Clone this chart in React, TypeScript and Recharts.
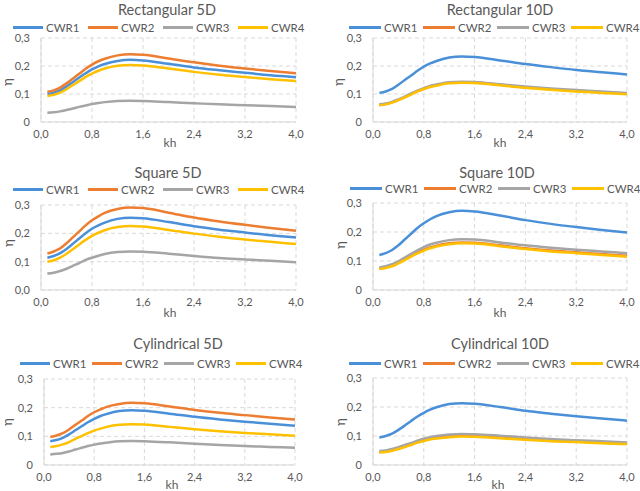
import React from "react"
import { LineChart, Line, XAxis, YAxis, CartesianGrid } from "recharts"

// kh sample points (shared by every panel)
const khValues = [0.1, 0.2, 0.3, 0.4, 0.5, 0.6, 0.7, 0.8, 0.9, 1.0, 1.2, 1.4, 1.6, 2.0, 2.4, 2.8, 3.2, 3.6, 4.0]
const seriesNames = ["CWR1", "CWR2", "CWR3", "CWR4"]
const xTicks = [0, 0.8, 1.6, 2.4, 3.2, 4.0]
const yTicks = [0, 0.1, 0.2, 0.3]

// Rectangular 5D
const rect5Cwr1 = [0.100, 0.105, 0.113, 0.127, 0.143, 0.159, 0.174, 0.188, 0.199, 0.207, 0.218, 0.222, 0.220, 0.208, 0.195, 0.185, 0.176, 0.167, 0.160]
const rect5Cwr2 = [0.108, 0.113, 0.123, 0.138, 0.155, 0.172, 0.190, 0.205, 0.217, 0.226, 0.238, 0.242, 0.240, 0.227, 0.213, 0.201, 0.191, 0.182, 0.174]
const rect5Cwr3 = [0.033, 0.035, 0.038, 0.043, 0.048, 0.054, 0.059, 0.064, 0.068, 0.071, 0.075, 0.076, 0.075, 0.071, 0.067, 0.063, 0.060, 0.057, 0.054]
const rect5Cwr4 = [0.093, 0.097, 0.105, 0.117, 0.132, 0.146, 0.161, 0.173, 0.183, 0.191, 0.201, 0.204, 0.202, 0.191, 0.179, 0.169, 0.161, 0.153, 0.146]

// Rectangular 10D
const rect10Cwr1 = [0.104, 0.109, 0.118, 0.133, 0.150, 0.166, 0.183, 0.198, 0.209, 0.218, 0.230, 0.234, 0.232, 0.220, 0.207, 0.196, 0.186, 0.178, 0.170]
const rect10Cwr2 = [0.061, 0.064, 0.070, 0.079, 0.089, 0.100, 0.110, 0.119, 0.127, 0.132, 0.140, 0.142, 0.141, 0.133, 0.124, 0.117, 0.111, 0.106, 0.101]
const rect10Cwr3 = [0.063, 0.066, 0.072, 0.081, 0.091, 0.102, 0.112, 0.121, 0.129, 0.134, 0.142, 0.144, 0.143, 0.135, 0.127, 0.120, 0.114, 0.109, 0.104]
const rect10Cwr4 = [0.060, 0.063, 0.069, 0.078, 0.088, 0.098, 0.109, 0.118, 0.125, 0.130, 0.138, 0.140, 0.139, 0.131, 0.122, 0.115, 0.109, 0.104, 0.099]

// Square 5D
const sq5Cwr1 = [0.114, 0.120, 0.130, 0.145, 0.163, 0.182, 0.200, 0.216, 0.228, 0.238, 0.251, 0.255, 0.253, 0.240, 0.225, 0.213, 0.203, 0.193, 0.185]
const sq5Cwr2 = [0.129, 0.136, 0.147, 0.165, 0.186, 0.207, 0.228, 0.246, 0.260, 0.272, 0.286, 0.291, 0.289, 0.273, 0.256, 0.242, 0.230, 0.219, 0.209]
const sq5Cwr3 = [0.058, 0.061, 0.067, 0.075, 0.085, 0.095, 0.106, 0.114, 0.121, 0.127, 0.134, 0.136, 0.135, 0.128, 0.120, 0.113, 0.108, 0.103, 0.098]
const sq5Cwr4 = [0.100, 0.105, 0.114, 0.128, 0.144, 0.161, 0.177, 0.191, 0.202, 0.211, 0.222, 0.226, 0.224, 0.212, 0.199, 0.188, 0.178, 0.170, 0.162]

// Square 10D
const sq10Cwr1 = [0.121, 0.127, 0.138, 0.154, 0.174, 0.194, 0.214, 0.230, 0.244, 0.255, 0.268, 0.273, 0.271, 0.257, 0.241, 0.228, 0.217, 0.207, 0.198]
const sq10Cwr2 = [0.074, 0.078, 0.084, 0.094, 0.106, 0.117, 0.129, 0.139, 0.147, 0.153, 0.161, 0.164, 0.163, 0.154, 0.144, 0.136, 0.130, 0.124, 0.118]
const sq10Cwr3 = [0.078, 0.082, 0.089, 0.099, 0.112, 0.125, 0.137, 0.148, 0.157, 0.163, 0.172, 0.175, 0.174, 0.164, 0.154, 0.146, 0.139, 0.133, 0.127]
const sq10Cwr4 = [0.072, 0.076, 0.082, 0.092, 0.103, 0.115, 0.126, 0.136, 0.144, 0.150, 0.158, 0.161, 0.160, 0.151, 0.141, 0.133, 0.127, 0.121, 0.115]

// Cylindrical 5D
const cyl5Cwr1 = [0.083, 0.087, 0.095, 0.107, 0.121, 0.135, 0.149, 0.161, 0.171, 0.178, 0.188, 0.191, 0.189, 0.179, 0.168, 0.159, 0.151, 0.144, 0.137]
const cyl5Cwr2 = [0.098, 0.103, 0.111, 0.124, 0.140, 0.155, 0.171, 0.184, 0.194, 0.203, 0.213, 0.217, 0.215, 0.204, 0.192, 0.182, 0.174, 0.166, 0.159]
const cyl5Cwr3 = [0.037, 0.039, 0.042, 0.047, 0.054, 0.060, 0.066, 0.071, 0.075, 0.078, 0.083, 0.084, 0.083, 0.079, 0.074, 0.070, 0.066, 0.063, 0.060]
const cyl5Cwr4 = [0.063, 0.066, 0.072, 0.080, 0.091, 0.101, 0.111, 0.120, 0.127, 0.133, 0.140, 0.142, 0.141, 0.133, 0.125, 0.118, 0.112, 0.107, 0.102]

// Cylindrical 10D
const cyl10Cwr1 = [0.095, 0.100, 0.108, 0.121, 0.136, 0.152, 0.167, 0.180, 0.191, 0.199, 0.210, 0.213, 0.211, 0.200, 0.187, 0.177, 0.168, 0.160, 0.153]
const cyl10Cwr2 = [0.045, 0.047, 0.051, 0.057, 0.065, 0.072, 0.079, 0.085, 0.090, 0.094, 0.099, 0.101, 0.100, 0.095, 0.089, 0.085, 0.081, 0.077, 0.074]
const cyl10Cwr3 = [0.048, 0.050, 0.055, 0.061, 0.069, 0.076, 0.084, 0.091, 0.096, 0.100, 0.105, 0.107, 0.106, 0.101, 0.095, 0.090, 0.085, 0.082, 0.078]
const cyl10Cwr4 = [0.043, 0.045, 0.049, 0.055, 0.062, 0.069, 0.077, 0.083, 0.088, 0.091, 0.096, 0.098, 0.097, 0.092, 0.087, 0.082, 0.079, 0.075, 0.072]

const COLORS = ["#4A90D9", "#ED7D31", "#A5A5A5", "#FFC000"]
const TEXT = "#595959"
const GRID = "#D9D9D9"
const FONT = "Lato, 'Open Sans', sans-serif"

// layout in page pixels: box, plot area, title/legend/axis-title anchors
const panels = [
  { title: "Rectangular 5D", series: [rect5Cwr1, rect5Cwr2, rect5Cwr3, rect5Cwr4], zero: "0",
    box: { x: 0, y: 0, h: 160 }, plot: { l: 41, r: 296, t: 38, b: 122 },
    titleX: 167, titleY: 10, legendX: 13, legendY: 27, legLine: 30, legItem: 75,
    khX: 170, khY: 143, etaX: 7, etaY: 82 },
  { title: "Rectangular 10D", series: [rect10Cwr1, rect10Cwr2, rect10Cwr3, rect10Cwr4], zero: "0",
    box: { x: 320, y: 0, h: 160 }, plot: { l: 373, r: 627, t: 38, b: 122 },
    titleX: 500, titleY: 10, legendX: 349, legendY: 27, legLine: 32, legItem: 74,
    khX: 500, khY: 143, etaX: 338, etaY: 82 },
  { title: "Square 5D", series: [sq5Cwr1, sq5Cwr2, sq5Cwr3, sq5Cwr4], zero: "0,0",
    box: { x: 0, y: 160, h: 165 }, plot: { l: 41, r: 296, t: 205, b: 290 },
    titleX: 168, titleY: 173, legendX: 13, legendY: 189, legLine: 30, legItem: 75,
    khX: 170, khY: 313, etaX: 8, etaY: 243 },
  { title: "Square 10D", series: [sq10Cwr1, sq10Cwr2, sq10Cwr3, sq10Cwr4], zero: "0",
    box: { x: 320, y: 160, h: 165 }, plot: { l: 373, r: 627, t: 203, b: 290 },
    titleX: 497, titleY: 173, legendX: 350, legendY: 188, legLine: 32, legItem: 74,
    khX: 500, khY: 313, etaX: 340, etaY: 245 },
  { title: "Cylindrical 5D", series: [cyl5Cwr1, cyl5Cwr2, cyl5Cwr3, cyl5Cwr4], zero: "0",
    box: { x: 0, y: 325, h: 166 }, plot: { l: 44, r: 295, t: 379, b: 465 },
    titleX: 178, titleY: 344, legendX: 20, legendY: 363, legLine: 30, legItem: 72,
    khX: 172, khY: 485, etaX: 7, etaY: 422 },
  { title: "Cylindrical 10D", series: [cyl10Cwr1, cyl10Cwr2, cyl10Cwr3, cyl10Cwr4], zero: "0",
    box: { x: 320, y: 325, h: 166 }, plot: { l: 373, r: 627, t: 378, b: 465 },
    titleX: 500, titleY: 344, legendX: 349, legendY: 363, legLine: 32, legItem: 74,
    khX: 498, khY: 485, etaX: 340, etaY: 422 },
]

const XAXIS_H = 20

function fmtX(v: number) {
  return v.toFixed(1).replace(".", ",")
}

function Panel({ p }: { p: (typeof panels)[number] }) {
  const data = khValues.map((kh, i) => ({
    kh,
    CWR1: p.series[0][i],
    CWR2: p.series[1][i],
    CWR3: p.series[2][i],
    CWR4: p.series[3][i],
  }))
  const { box, plot } = p
  const fmtY = (v: number) => (v === 0 ? p.zero : v.toFixed(1).replace(".", ","))

  return (
    <>
      <div style={{ position: "absolute", left: box.x, top: box.y }}>
        <LineChart
          width={320}
          height={box.h}
          data={data}
          margin={{
            top: plot.t - box.y,
            right: box.x + 320 - plot.r,
            bottom: box.y + box.h - plot.b - XAXIS_H,
            left: 0,
          }}
        >
          <CartesianGrid stroke={GRID} strokeDasharray="4 3" />
          <XAxis
            dataKey="kh"
            type="number"
            domain={[0, 4]}
            ticks={xTicks}
            tickFormatter={fmtX}
            height={XAXIS_H}
            tickLine={false}
            axisLine={{ stroke: GRID }}
            tick={{ fontSize: 11, fill: TEXT, fontFamily: FONT }}
          />
          <YAxis
            type="number"
            domain={[0, 0.3]}
            ticks={yTicks}
            tickFormatter={fmtY}
            width={plot.l - box.x}
            tickLine={false}
            tickMargin={5}
            axisLine={{ stroke: GRID }}
            tick={{ fontSize: 11, fill: TEXT, fontFamily: FONT }}
          />
          {seriesNames.map((name, i) => (
            <Line
              key={name}
              type="monotone"
              dataKey={name}
              stroke={COLORS[i]}
              strokeWidth={2.5}
              dot={false}
              isAnimationActive={false}
            />
          ))}
        </LineChart>
      </div>

      <div
        style={{
          position: "absolute",
          left: p.titleX - 100,
          width: 200,
          top: p.titleY - 9,
          textAlign: "center",
          fontSize: 14.5,
          lineHeight: "18px",
          color: TEXT,
        }}
      >
        {p.title}
      </div>

      <div
        style={{
          position: "absolute",
          left: p.legendX,
          top: p.legendY - 8,
          display: "flex",
          alignItems: "center",
          height: 16,
          fontSize: 11.5,
          color: TEXT,
          whiteSpace: "nowrap",
        }}
      >
        {seriesNames.map((name, i) => (
          <div key={name} style={{ display: "flex", alignItems: "center", width: p.legItem }}>
            <span style={{ display: "inline-block", width: p.legLine, height: 3, background: COLORS[i] }} />
            <span style={{ marginLeft: 3 }}>{name}</span>
          </div>
        ))}
      </div>

      <div
        style={{
          position: "absolute",
          left: p.khX - 20,
          width: 40,
          top: p.khY - 8,
          textAlign: "center",
          fontSize: 12,
          lineHeight: "16px",
          color: TEXT,
        }}
      >
        kh
      </div>

      <div
        style={{
          position: "absolute",
          left: p.etaX - 10,
          width: 20,
          top: p.etaY - 8,
          textAlign: "center",
          fontSize: 13,
          lineHeight: "16px",
          color: TEXT,
          transform: "rotate(-90deg)",
        }}
      >
        η
      </div>
    </>
  )
}

export default function App() {
  return (
    <div
      style={{
        position: "absolute",
        left: 0,
        top: 0,
        width: 640,
        height: 491,
        background: "#fff",
        fontFamily: FONT,
        overflow: "hidden",
      }}
    >
      {panels.map((p) => (
        <Panel key={p.title} p={p} />
      ))}
    </div>
  )
}
